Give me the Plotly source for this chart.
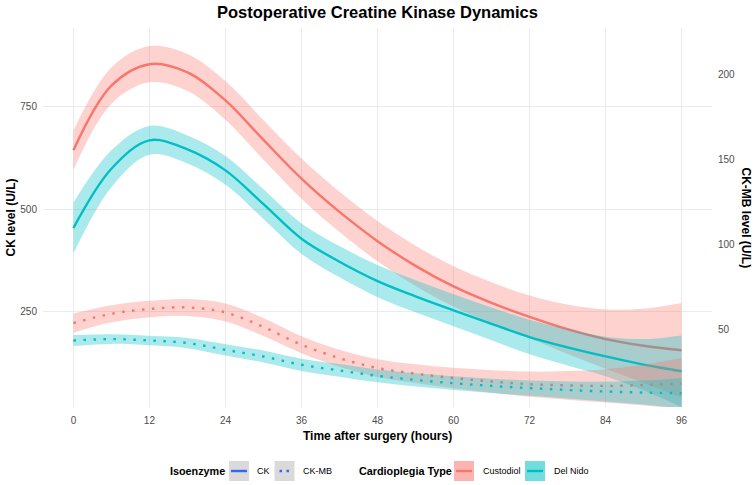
import plotly.graph_objects as go

# ---------------- data ----------------
hours = [0, 6, 12, 18, 24, 30, 36, 42, 48, 54, 60, 66, 72, 78, 84, 90, 96]

ck_custodiol = [643, 800, 852, 832, 764, 668, 574, 493, 422, 362, 312, 272, 238, 208, 184, 168, 157]
ck_custodiol_se = [48, 44, 44, 45, 47, 48, 49, 49, 49, 49, 49, 50, 52, 60, 72, 90, 115]
ck_delnido = [454, 598, 667, 645, 594, 512, 428, 372, 325, 288, 254, 221, 189, 164, 142, 122, 106]
ck_delnido_se = [62, 45, 35, 34, 35, 36, 37, 38, 39, 39, 39, 40, 42, 44, 48, 62, 87]

ckmb_custodiol = [53.9, 59.4, 62.2, 63.1, 60.2, 51.6, 41.2, 33.3, 27.5, 24.2, 21.6, 19.6, 18.0, 17.3, 17.0, 17.5, 18.4]
ckmb_custodiol_se = [5.6, 5.0, 4.8, 5.0, 5.3, 5.3, 5.0, 5.0, 5.2, 5.5, 6.0, 6.6, 7.4, 8.4, 9.8, 12.0, 15.0]
ckmb_delnido = [43.7, 44.5, 43.7, 42.2, 38.2, 34.3, 29.4, 26.1, 22.9, 20.5, 18.6, 17.0, 15.7, 14.6, 13.7, 13.1, 12.7]
ckmb_delnido_se = [3.2, 2.8, 2.8, 3.0, 3.3, 3.5, 3.6, 3.7, 3.8, 3.9, 4.0, 4.2, 4.5, 5.0, 5.8, 7.0, 9.0]

x_ticks = [0, 12, 24, 36, 48, 60, 72, 84, 96]
y_ticks = [250, 500, 750]
y2_ticks = [50, 100, 150, 200]

groups = ["Custodiol", "Del Nido"]
colors = {"Custodiol": "#F8766D", "Del Nido": "#00BFC4"}
fills = {"Custodiol": "rgba(248,118,109,0.33)", "Del Nido": "rgba(0,191,196,0.33)"}
key_fills = {"Custodiol": "rgba(248,118,109,0.55)", "Del Nido": "rgba(0,191,196,0.55)"}

FONT = "Liberation Sans, Arial, sans-serif"
W, H = 755, 485
ML, MR, MT, MB = 43, 43, 28, 78
PW = W - ML - MR
PH = H - MT - MB
Y1 = [19, 940]
RATIO = 4.134
Y2 = [Y1[0] / RATIO, Y1[1] / RATIO]

fig = go.Figure()


def add_smooth(x, y, se, group, yaxis, dash):
    lo = [a - b for a, b in zip(y, se)]
    hi = [a + b for a, b in zip(y, se)]
    fig.add_trace(go.Scatter(x=x, y=lo, mode="lines", line=dict(width=0, shape="spline"),
                             yaxis=yaxis, showlegend=False, hoverinfo="skip"))
    fig.add_trace(go.Scatter(x=x, y=hi, mode="lines", line=dict(width=0, shape="spline"),
                             fill="tonexty", fillcolor=fills[group],
                             yaxis=yaxis, showlegend=False, hoverinfo="skip"))
    fig.add_trace(go.Scatter(x=x, y=y, mode="lines",
                             line=dict(width=2.4, color=colors[group], shape="spline", dash=dash),
                             yaxis=yaxis, showlegend=False, name=group))


ck_series = {"Custodiol": (ck_custodiol, ck_custodiol_se), "Del Nido": (ck_delnido, ck_delnido_se)}
ckmb_series = {"Custodiol": (ckmb_custodiol, ckmb_custodiol_se), "Del Nido": (ckmb_delnido, ckmb_delnido_se)}

for g in groups:
    add_smooth(hours, ck_series[g][0], ck_series[g][1], g, "y", "solid")
for g in groups:
    add_smooth(hours, ckmb_series[g][0], ckmb_series[g][1], g, "y2", "2.5px,7.5px")


def px(xp):
    return (xp - ML) / PW


def py(yp):
    return (H - MB - yp) / PH


shapes = []
annotations = []


def text(s, x, y, size, anchor="left", angle=0, color="#000000"):
    annotations.append(dict(text=s, x=px(x), y=py(y), xref="paper", yref="paper",
                            xanchor=anchor, yanchor="middle", showarrow=False, textangle=angle,
                            font=dict(family=FONT, size=size, color=color)))


def rect(x0, x1, y0, y1, fill):
    shapes.append(dict(type="rect", xref="paper", yref="paper", x0=px(x0), x1=px(x1),
                       y0=py(y1), y1=py(y0), fillcolor=fill, line=dict(width=0), layer="above"))


def hline(x0, x1, y, color, dash="solid"):
    shapes.append(dict(type="line", xref="paper", yref="paper", x0=px(x0), x1=px(x1),
                       y0=py(y), y1=py(y), line=dict(color=color, width=2.4, dash=dash), layer="above"))


# axis titles
text("<b>Time after surgery (hours)</b>", (ML + W - MR) / 2, 436, 12, anchor="center")
text("<b>CK level (U/L)</b>", 10, MT + PH / 2, 12, anchor="center", angle=-90)
text("<b>CK-MB level (U/L)</b>", 746, MT + PH / 2, 12, anchor="center", angle=90)

# legend
LY = 471
text("<b>Isoenzyme</b>", 168, LY, 10.8)
rect(229, 249, LY - 10, LY + 10, "#DADADA")
hline(231, 247, LY, "#3366FF")
text("CK", 255, LY, 9)
rect(274.5, 294.5, LY - 10, LY + 10, "#DADADA")
hline(279.5, 292, LY, "#3366FF", dash="2.5px,4.5px")
text("CK-MB", 301, LY, 9)
text("<b>Cardioplegia Type</b>", 357, LY, 10.8)
rect(454, 474, LY - 10, LY + 10, key_fills["Custodiol"])
hline(456, 472, LY, colors["Custodiol"])
text("Custodiol", 481, LY, 9)
rect(525, 545, LY - 10, LY + 10, key_fills["Del Nido"])
hline(527, 543, LY, colors["Del Nido"])
text("Del Nido", 552, LY, 9)

tick_font = dict(family=FONT, size=10, color="#4D4D4D")
fig.update_layout(
    width=W, height=H,
    margin=dict(l=ML, r=MR, t=MT, b=MB, pad=0),
    paper_bgcolor="white", plot_bgcolor="white",
    font=dict(family=FONT, color="#000000"),
    title=dict(text="<b>Postoperative Creatine Kinase Dynamics</b>", x=px((ML + W - MR) / 2),
               xref="paper", xanchor="center", y=1 - 12.5 / H, yref="container", yanchor="middle",
               font=dict(family=FONT, size=16.5, color="#000000")),
    xaxis=dict(range=[-4.8, 100.8], tickvals=x_ticks, showgrid=True, gridcolor="#EBEBEB", gridwidth=1,
               zeroline=False, showline=False, ticks="", tickfont=tick_font, ticklabelstandoff=6),
    yaxis=dict(range=Y1, tickvals=y_ticks, showgrid=True, gridcolor="#EBEBEB", gridwidth=1,
               zeroline=False, showline=False, ticks="", tickfont=tick_font, ticklabelstandoff=5),
    yaxis2=dict(range=Y2, tickvals=y2_ticks, overlaying="y", side="right", showgrid=False,
                zeroline=False, showline=False, ticks="", tickfont=tick_font, ticklabelstandoff=5),
    shapes=shapes,
    annotations=annotations,
    showlegend=False,
)

fig.write_html("out.html")
